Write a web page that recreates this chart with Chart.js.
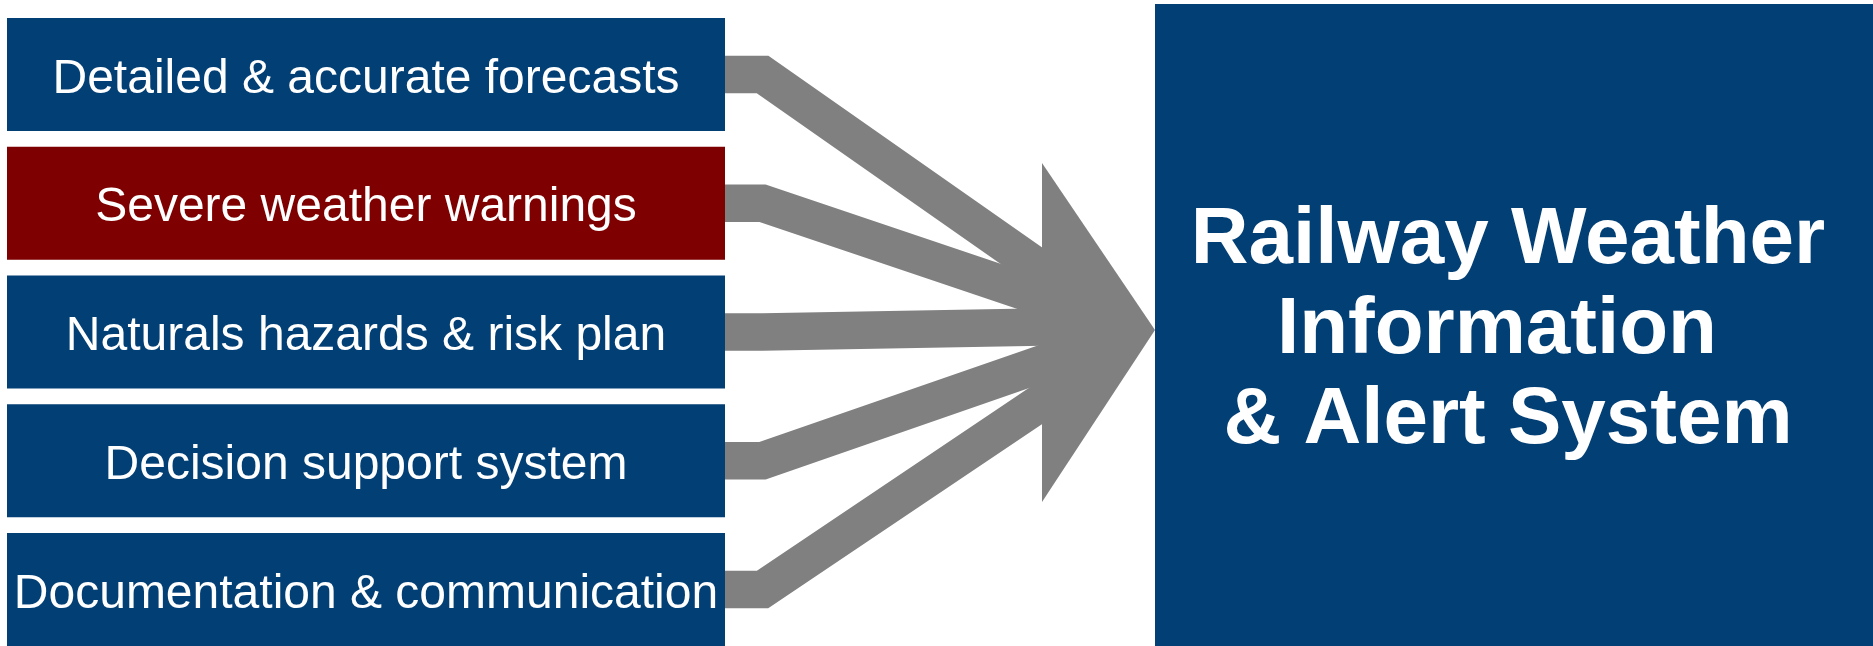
<!DOCTYPE html>
<html>
<head>
<meta charset="utf-8">
<title>Railway Weather Information & Alert System</title>
<script src="https://cdn.jsdelivr.net/npm/chart.js@4.4.1/dist/chart.umd.min.js"></script>
<style>
    html, body { margin: 0; padding: 0; background: #fff; }
    #wrap { width: 1873px; height: 646px; position: relative; }
</style>
</head>
<body>
<div id="wrap"><canvas id="diagram"></canvas></div>
<script>
// inputs feeding the system (top to bottom)
const inputLabels = [
    'Detailed & accurate forecasts',
    'Severe weather warnings',
    'Naturals hazards & risk plan',
    'Decision support system',
    'Documentation & communication'
];
const inputColors = ['#023F75', '#7F0000', '#023F75', '#023F75', '#023F75'];
// slope of each grey flow after its bend
const flowSlopes = [0.70, 0.337, -0.018, -0.347, -0.672];
const targetLines = ['Railway Weather', 'Information ', '& Alert System'];

// layout (in scale units, 1 unit = 1 px)
const BOX_LEFT = 7, BOX_RIGHT = 725, BOX_H = 113;
const ROW_TOP = 18, ROW_STEP = 128.75;
const BEND_X = 762.5, FLOW_END = 1085, FLOW_W = 37.5;
const HEAD_BASE = 1042, HEAD_TOP = 163, HEAD_BOTTOM = 502, TIP_X = 1155, TIP_Y = 330;
const TARGET_LEFT = 1155, TARGET_RIGHT = 1873, TARGET_TOP = 4, TARGET_BOTTOM = 650;
const TITLE_X = 1508, TITLE_BASE = 263, TITLE_STEP = 90;

const rowCenter = (i) => ROW_TOP + BOX_H / 2 + i * ROW_STEP;

function rect(x0, y0, x1, y1) {
    return [{x: x0, y: y0}, {x: x1, y: y0}, {x: x1, y: y1}, {x: x0, y: y1}, {x: x0, y: y0}];
}

const shapeStyle = { fill: 'shape', borderWidth: 0, pointRadius: 0, tension: 0 };

const datasets = [];

inputLabels.forEach((label, i) => {
    const c = rowCenter(i);
    datasets.push({
        ...shapeStyle,
        label: label,
        data: rect(BOX_LEFT, c - BOX_H / 2, BOX_RIGHT, c + BOX_H / 2),
        backgroundColor: inputColors[i],
        order: 1,
    });
});

datasets.push({
    ...shapeStyle,
    label: 'target',
    data: rect(TARGET_LEFT, TARGET_TOP, TARGET_RIGHT, TARGET_BOTTOM),
    backgroundColor: '#023F75',
    order: 1,
});

datasets.push({
    ...shapeStyle,
    label: 'arrow head',
    data: [
        {x: HEAD_BASE, y: HEAD_TOP},
        {x: TIP_X, y: TIP_Y},
        {x: HEAD_BASE, y: HEAD_BOTTOM},
        {x: HEAD_BASE, y: HEAD_TOP}
    ],
    backgroundColor: '#808080',
    order: 2,
});

flowSlopes.forEach((slope, i) => {
    const c = rowCenter(i);
    datasets.push({
        label: 'flow ' + i,
        data: [
            {x: BOX_RIGHT - 2, y: c},
            {x: BEND_X, y: c},
            {x: FLOW_END, y: c + slope * (FLOW_END - BEND_X)}
        ],
        borderColor: '#808080',
        borderWidth: FLOW_W,
        borderJoinStyle: 'miter',
        borderCapStyle: 'butt',
        fill: false,
        pointRadius: 0,
        tension: 0,
        order: 3,
    });
});

const labelPlugin = {
    id: 'boxLabels',
    afterDatasetsDraw(chart) {
        const { ctx, scales: { x, y } } = chart;
        ctx.save();
        ctx.fillStyle = '#ffffff';
        ctx.textAlign = 'center';
        ctx.textBaseline = 'alphabetic';
        ctx.font = '48px "Liberation Sans", Arial, sans-serif';
        inputLabels.forEach((label, i) => {
            ctx.fillText(label, x.getPixelForValue((BOX_LEFT + BOX_RIGHT) / 2), y.getPixelForValue(rowCenter(i)) + 18);
        });
        ctx.font = 'bold 80px "Liberation Sans", Arial, sans-serif';
        targetLines.forEach((line, i) => {
            ctx.fillText(line, x.getPixelForValue(TITLE_X), y.getPixelForValue(TITLE_BASE + i * TITLE_STEP));
        });
        ctx.restore();
    }
};

new Chart(document.getElementById('diagram'), {
    type: 'line',
    data: { datasets: datasets },
    options: {
        responsive: true,
        maintainAspectRatio: false,
        animation: false,
        layout: { padding: 0 },
        scales: {
            x: { type: 'linear', min: 0, max: 1873, display: false },
            y: { type: 'linear', min: 0, max: 646, reverse: true, display: false },
        },
        plugins: {
            legend: { display: false },
            tooltip: { enabled: false },
        },
    },
    plugins: [labelPlugin],
});
</script>
</body>
</html>
